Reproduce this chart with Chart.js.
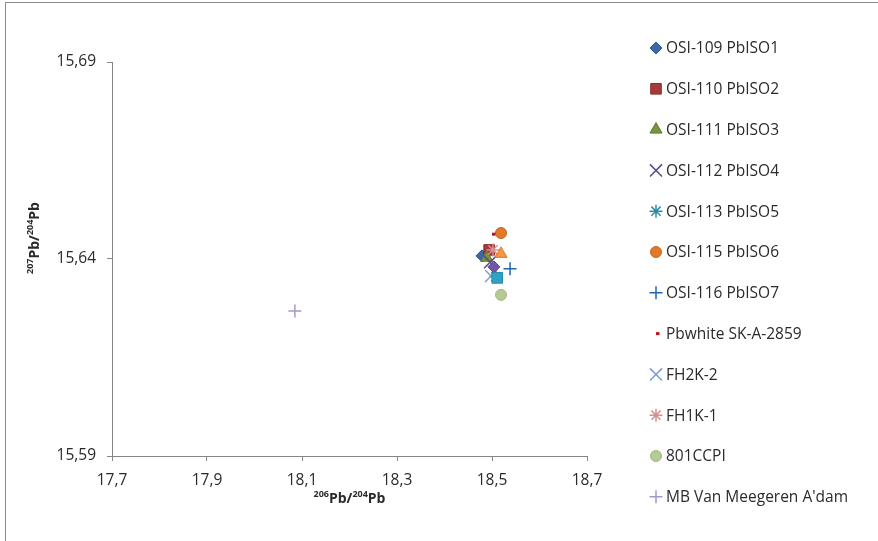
<!DOCTYPE html>
<html>
<head>
<meta charset="utf-8">
<script src="https://cdn.jsdelivr.net/npm/chart.js@4.4.1/dist/chart.umd.min.js"></script>
<style>
  html, body { margin: 0; padding: 0; background: #fff; }
  #wrap { width: 878px; height: 541px; }
</style>
</head>
<body>
<div id="wrap"><canvas id="grafico" width="878" height="541"></canvas></div>
<script>
// ─────────────────────────────────────────────────────────────
// DATOS
// ─────────────────────────────────────────────────────────────
const nombresSeries = [
    'OSI-109 PbISO1', 'OSI-110 PbISO2', 'OSI-111 PbISO3', 'OSI-112 PbISO4',
    'OSI-113 PbISO5', 'OSI-115 PbISO6', 'OSI-116 PbISO7', 'Pbwhite SK-A-2859',
    'FH2K-2', 'FH1K-1', '801CCPI', "MB Van Meegeren A'dam",
    '', '', ''          // series sin entrada en la leyenda
];
const pb206_204 = [18.479, 18.494, 18.489, 18.496, 18.508, 18.519, 18.538, 18.500,
                   18.498, 18.502, 18.519, 18.085, 18.504, 18.511, 18.519];
const pb207_204 = [15.6408, 15.6423, 15.6403, 15.6392, 15.6355, 15.6466, 15.6375, 15.6463,
                   15.6357, 15.6423, 15.6309, 15.6268, 15.6380, 15.6352, 15.6413];

const ticksX = [17.7, 17.9, 18.1, 18.3, 18.5, 18.7];
const ticksY = [15.59, 15.64, 15.69];

// estilo de marcador por serie (como Excel)
const estilos = [
    { forma: 'rectRot',  radio: 6,   relleno: '#3A68AA', borde: '#2C5490', grosor: 1 },
    { forma: 'rect',     radio: 7.5, relleno: '#A63A38', borde: '#8A2C2A', grosor: 1 },
    { forma: 'triangle', radio: 7,   relleno: '#77963C', borde: '#5F7A2E', grosor: 1 },
    { forma: 'crossRot', radio: 8.5, relleno: '#5C4A8A', borde: '#5C4A8A', grosor: 1.5 },
    { forma: 'star',     radio: 6.5, relleno: '#2E8CA8', borde: '#2E8CA8', grosor: 1.5 },
    { forma: 'circle',   radio: 5.5, relleno: '#E07A2A', borde: '#C8661C', grosor: 1 },
    { forma: 'cross',    radio: 6.5, relleno: '#2463AE', borde: '#2463AE', grosor: 1.5 },
    { forma: 'dash',     radio: 3.5, relleno: '#C0141A', borde: '#C0141A', grosor: 3 },
    { forma: 'crossRot', radio: 8.5, relleno: '#7E9ED2', borde: '#7E9ED2', grosor: 1.5 },
    { forma: 'star',     radio: 6.5, relleno: '#D9908E', borde: '#D9908E', grosor: 1.5 },
    { forma: 'circle',   radio: 5.5, relleno: '#B4CA92', borde: '#A3BA80', grosor: 1 },
    { forma: 'cross',    radio: 6.5, relleno: '#A898C4', borde: '#A898C4', grosor: 1.5 },
    { forma: 'rectRot',  radio: 6,   relleno: '#7456A6', borde: '#5E4490', grosor: 1 },
    { forma: 'rect',     radio: 7.5, relleno: '#2FA2C6', borde: '#2388AA', grosor: 1 },
    { forma: 'triangle', radio: 7,   relleno: '#F39640', borde: '#D97E2C', grosor: 1 }
];

const FUENTE = '"Open Sans", "DejaVu Sans", sans-serif';
const COLOR_EJE = '#868686';
const COLOR_TEXTO = '#2a2a2a';

// ─────────────────────────────────────────────────────────────
// DATASETS
// ─────────────────────────────────────────────────────────────
const datasets = nombresSeries.map(function (nombre, i) {
    const e = estilos[i];
    return {
        label: nombre,
        data: [{ x: pb206_204[i], y: pb207_204[i] }],
        pointStyle: e.forma,
        pointRadius: e.radio,
        pointHoverRadius: e.radio,
        backgroundColor: e.relleno,
        borderColor: e.borde,
        borderWidth: e.grosor,
        order: nombresSeries.length - i   // las últimas series quedan encima
    };
});

function formatoComa(dec) {
    return function (v) { return v.toFixed(dec).replace('.', ','); };
}

// ─────────────────────────────────────────────────────────────
// PLUGINS: marco, leyenda y títulos con superíndices
// ─────────────────────────────────────────────────────────────
const pluginMarco = {
    id: 'marco',
    beforeDraw: function (chart) {
        const ctx = chart.ctx;
        ctx.save();
        ctx.fillStyle = '#fff';
        ctx.fillRect(0, 0, chart.width, chart.height);
        ctx.strokeStyle = '#8c8c8c';
        ctx.lineWidth = 1;
        ctx.strokeRect(5.5, 2.5, chart.width + 10, chart.height + 10);
        ctx.restore();
    }
};

const pluginLeyenda = {
    id: 'leyendaExcel',
    afterDraw: function (chart) {
        const ctx = chart.ctx;
        const x0 = 656, y0 = 48, paso = 40.8;
        let fila = 0;
        ctx.save();
        chart.data.datasets.forEach(function (ds, i) {
            if (!ds.label) return;
            const y = y0 + fila * paso;
            const e = estilos[i];
            ctx.fillStyle = e.relleno;
            ctx.strokeStyle = e.borde;
            ctx.lineWidth = e.grosor;
            Chart.helpers.drawPoint(ctx, {
                pointStyle: e.forma, radius: e.radio, rotation: 0, borderWidth: e.grosor
            }, x0, y);
            ctx.fillStyle = COLOR_TEXTO;
            ctx.font = '15.5px ' + FUENTE;
            ctx.textAlign = 'left';
            ctx.textBaseline = 'middle';
            ctx.fillText(ds.label, x0 + 10, y + 1);
            fila++;
        });
        ctx.restore();
    }
};

// dibuja "^a Pb/^b Pb" centrado en (cx, cy)
function tituloIsotopo(ctx, supA, supB, cx, cy, rot) {
    const fBase = 'bold 14px ' + FUENTE;
    const fSup = 'bold 9px ' + FUENTE;
    const trozos = [
        { t: supA, f: fSup, dy: -5 }, { t: 'Pb/', f: fBase, dy: 0 },
        { t: supB, f: fSup, dy: -5 }, { t: 'Pb', f: fBase, dy: 0 }
    ];
    let total = 0;
    trozos.forEach(function (p) { ctx.font = p.f; p.w = ctx.measureText(p.t).width; total += p.w; });
    ctx.save();
    ctx.translate(cx, cy);
    ctx.rotate(rot);
    ctx.fillStyle = COLOR_TEXTO;
    ctx.textBaseline = 'middle';
    ctx.textAlign = 'left';
    let x = -total / 2;
    trozos.forEach(function (p) {
        ctx.font = p.f;
        ctx.fillText(p.t, x, p.dy);
        x += p.w;
    });
    ctx.restore();
}

const pluginTitulos = {
    id: 'titulosEjes',
    afterDraw: function (chart) {
        const ctx = chart.ctx;
        const area = chart.chartArea;
        tituloIsotopo(ctx, '206', '204', (area.left + area.right) / 2, 499, 0);
        tituloIsotopo(ctx, '207', '204', 35, 238, -Math.PI / 2);
    }
};

// ─────────────────────────────────────────────────────────────
// GRÁFICO
// ─────────────────────────────────────────────────────────────
const ctxGrafico = document.getElementById('grafico').getContext('2d');
const grafico = new Chart(ctxGrafico, {
    type: 'scatter',
    data: { datasets: datasets },
    options: {
        responsive: false,
        animation: false,
        devicePixelRatio: 1,
        layout: { padding: { left: 0, top: 62, right: 291, bottom: 0 } },
        plugins: {
            legend: { display: false },
            tooltip: { enabled: false }
        },
        scales: {
            x: {
                type: 'linear',
                min: 17.7,
                max: 18.7,
                afterBuildTicks: function (s) { s.ticks = ticksX.map(function (v) { return { value: v }; }); },
                afterFit: function (s) { s.height = 85; },
                ticks: {
                    callback: formatoComa(1),
                    color: COLOR_TEXTO,
                    font: { family: FUENTE, size: 15.5 },
                    padding: 10,
                    maxRotation: 0
                },
                grid: { drawOnChartArea: false, drawTicks: true, tickLength: 5, color: COLOR_EJE },
                border: { color: COLOR_EJE, width: 1 }
            },
            y: {
                type: 'linear',
                min: 15.59,
                max: 15.69,
                afterBuildTicks: function (s) { s.ticks = ticksY.map(function (v) { return { value: v }; }); },
                afterFit: function (s) { s.width = 112; },
                ticks: {
                    callback: formatoComa(2),
                    color: COLOR_TEXTO,
                    font: { family: FUENTE, size: 15.5 },
                    padding: 11
                },
                grid: { drawOnChartArea: false, drawTicks: true, tickLength: 5, color: COLOR_EJE },
                border: { color: COLOR_EJE, width: 1 }
            }
        }
    },
    plugins: [pluginMarco, pluginLeyenda, pluginTitulos]
});
</script>
</body>
</html>
